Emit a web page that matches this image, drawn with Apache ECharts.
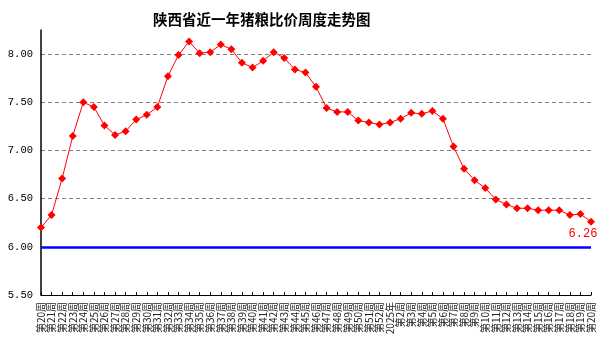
<!DOCTYPE html>
<html><head><meta charset="utf-8">
<script src="https://cdn.jsdelivr.net/npm/echarts@6/dist/echarts.min.js"></script>
<style>html,body{margin:0;padding:0;background:#fff}#c{width:606px;height:344px}</style>
</head><body><div id="c"></div>
<script>
const categories = ['第20周','第21周','第22周','第23周','第24周','第25周','第26周','第27周','第28周','第29周','第30周','第31周','第32周','第33周','第34周','第35周','第36周','第37周','第38周','第39周','第40周','第41周','第42周','第43周','第44周','第45周','第46周','第47周','第48周','第49周','第50周','第51周','第52周','2025年','第2周','第3周','第4周','第5周','第6周','第7周','第8周','第9周','第10周','第11周','第12周','第13周','第14周','第15周','第16周','第17周','第18周','第19周','第20周'];
const ratio = [6.20,6.33,6.71,7.15,7.50,7.45,7.26,7.16,7.20,7.32,7.37,7.45,7.77,7.99,8.13,8.01,8.02,8.10,8.05,7.91,7.86,7.93,8.02,7.96,7.84,7.81,7.66,7.44,7.40,7.40,7.31,7.29,7.27,7.29,7.33,7.39,7.38,7.41,7.33,7.04,6.81,6.69,6.61,6.49,6.44,6.40,6.40,6.38,6.38,6.38,6.33,6.34,6.26];
const refLine = 6.00;
const yTicks = {min:5.5, max:8.25, interval:0.5};

const chart = echarts.init(document.getElementById('c'));
const last = ratio.length - 1;
chart.setOption({
  animation:false,
  title:{text:'陕西省近一年猪粮比价周度走势图',left:148,top:7,textStyle:{fontSize:14.5,fontWeight:'bold',color:'#000',fontFamily:'Noto Sans CJK SC'}},
  grid:{left:41,right:15,top:30,bottom:49},
  xAxis:{type:'category',data:categories,boundaryGap:false,
    axisLine:{lineStyle:{color:'#000',width:1}},
    axisTick:{show:true,inside:true,length:3,interval:0,lineStyle:{color:'#000'}},
    axisLabel:{rotate:90,interval:0,fontSize:10,color:'#222',margin:7,fontFamily:'Noto Sans CJK SC'}},
  yAxis:{type:'value',min:yTicks.min,max:yTicks.max,interval:yTicks.interval,
    axisLine:{show:true,lineStyle:{color:'#000',width:1.5}},axisTick:{show:false},
    axisLabel:{formatter:v=>v.toFixed(2),fontSize:10.5,color:'#000',showMaxLabel:false,margin:8,fontFamily:'Liberation Mono'},
    splitLine:{show:true,showMaxLine:false,showMinLine:false,lineStyle:{color:'#808080',type:[4,3],width:1}}},
  series:[{type:'line',data:ratio.map((v,i)=>i===last?{value:v,label:{show:true,position:'bottom',offset:[-8,-3],formatter:p=>p.value.toFixed(2),color:'#ff0000',fontSize:12,fontFamily:'Liberation Mono'}}:v),
    symbol:'diamond',symbolSize:8,
    lineStyle:{color:'#ff0000',width:1},itemStyle:{color:'#ff0000'},
    markLine:{silent:true,symbol:'none',label:{show:false},lineStyle:{color:'#0000ff',width:2.5,type:'solid'},data:[{yAxis:refLine}]}
  }]
});
</script></body></html>
